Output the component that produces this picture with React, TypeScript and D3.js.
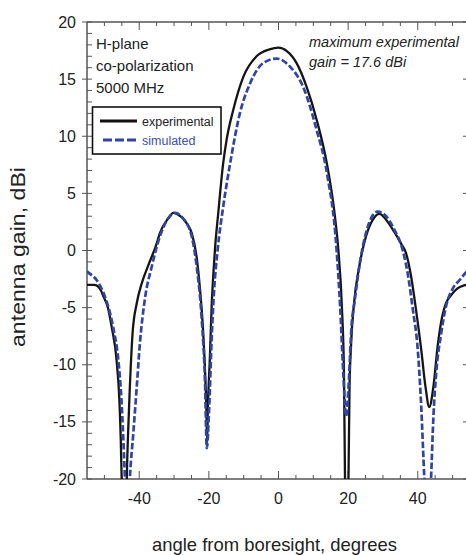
import React from 'react';
import * as d3 from 'd3';

const experimental: [number, number][] = [
  [-55, -3.0], [-53, -3.0], [-52, -3.1], [-51, -3.5], [-50.3, -4.0], [-49, -5.0], [-47.9, -6.7],
  [-46.5, -9.6], [-45.7, -13.1], [-45.3, -16.6], [-45.0, -20.5], [-44.4, -25], [-43.8, -25],
  [-43.6, -20.5], [-43.2, -16.0], [-42.7, -12.0], [-41.9, -7.2], [-40.7, -4.6], [-39.3, -2.9],
  [-37.4, -1.3], [-35.0, 0.6], [-34.1, 1.5], [-31.7, 2.8], [-30.2, 3.3], [-29.2, 3.2], [-27.4, 2.8],
  [-26.4, 2.4], [-24.9, 1.5], [-23.5, -0.6], [-22.6, -3.2], [-21.7, -6.8], [-21.1, -10.5],
  [-20.7, -14.0], [-20.5, -16.8], [-20.3, -14.0], [-19.7, -9.3], [-19.2, -4.9], [-18.7, -2.0],
  [-18.2, 0.3], [-17.3, 3.3], [-15.9, 7.6], [-14.9, 9.7], [-13.0, 12.3], [-10.1, 15.2], [-6.3, 17.0],
  [-2.6, 17.6], [0, 17.75], [2.4, 17.45], [5.2, 16.4], [8.1, 14.3], [11.0, 11.4], [13.9, 7.6],
  [16.2, 3.0], [17.2, 0.0], [18.2, -4.9], [18.8, -10.7], [19.1, -20], [19.45, -25], [19.75, -25],
  [20.1, -20], [20.4, -12], [20.8, -8.5], [21.7, -4.6], [23.2, -1.4], [25.1, 1.2], [27.1, 2.7],
  [29.0, 3.2], [30.9, 2.7], [33.3, 1.6], [35.2, 0.6], [36.6, -0.2], [38.1, -2.3], [39.5, -5.2],
  [41.0, -8.7], [42.2, -11.9], [43.3, -13.7], [44.5, -11.9], [45.7, -8.4], [47.0, -5.8],
  [48.1, -4.6], [49.6, -3.9], [51.5, -3.3], [53.9, -3.0], [55, -2.9],
];

const simulated: [number, number][] = [
  [-55, -1.8], [-54.7, -1.9], [-52.2, -2.6], [-49.9, -4.0], [-47.5, -6.7], [-46.0, -9.6],
  [-45.1, -13.1], [-44.4, -17.7], [-44.1, -20], [-43.4, -25], [-42.7, -20], [-41.7, -16],
  [-40.7, -11.9], [-39.8, -8.1], [-38.4, -4.3], [-36.4, -1.4], [-34.1, 1.2], [-31.7, 2.8],
  [-29.7, 3.3], [-27.4, 2.8], [-24.9, 1.2], [-23.5, -1.4], [-22.1, -5.8], [-21.1, -11.6],
  [-20.6, -17.3], [-19.9, -13.7], [-19.2, -7.8], [-18.5, -3.5], [-17.5, 0], [-15.8, 4.0],
  [-13.9, 7.6], [-11.1, 12.0], [-8.2, 14.6], [-4.4, 16.4], [-0.5, 16.8], [3.3, 16.1], [7.1, 14.3],
  [11.0, 10.5], [13.9, 6.8], [16.7, 0], [17.7, -4.9], [18.6, -10.7], [19.4, -14.5], [20.1, -12],
  [21.0, -6.5], [21.8, -4.6], [23.2, -1.4], [25.1, 1.5], [27.1, 3.1], [28.5, 3.4], [30.9, 3.0],
  [33.3, 1.8], [35.7, 0.0], [37.1, -2.0], [38.6, -5.2], [40.0, -8.7], [40.9, -13.1], [41.9, -20],
  [42.8, -25], [43.8, -20], [44.5, -14.5], [45.3, -10.7], [46.7, -7.3], [48.1, -4.9], [50.1, -3.3],
  [52.0, -2.6], [53.9, -1.9], [55, -1.6],
];

const xMajorTicks = [-40, -20, 0, 20, 40];
const yMajorTicks = [20, 15, 10, 5, 0, -5, -10, -15, -20];
const infoLines = ['H-plane', 'co-polarization', '5000 MHz'];
const noteLines = ['maximum experimental', 'gain = 17.6 dBi'];
const legendLabels = ['experimental', 'simulated'];
const xTitle = 'angle from boresight, degrees';
const yTitle = 'antenna gain, dBi';

const FONT = "'Liberation Sans', Arial, sans-serif";
const AXIS = '#555';
const BLUE = '#2f45a0';

export default function App() {
  const W = 466, H = 555;
  const x = d3.scaleLinear().domain([-55, 55]).range([87, 470]);
  const y = d3.scaleLinear().domain([-20, 20]).range([479, 22]);
  const gen = d3.line<[number, number]>().x(d => x(d[0])).y(d => y(d[1])).curve(d3.curveMonotoneX);

  const xMinor = d3.range(-50, 55, 5).filter(v => !xMajorTicks.includes(v));
  const yMinor = d3.range(-19, 20, 1).filter(v => v % 5 !== 0);
  const [x0, x1] = x.range();
  const [yb, yt] = y.range();

  return (
    <svg width={W} height={H} style={{ position: 'absolute', left: 0, top: 0, background: '#fff' }}
      fontFamily={FONT}>
      <defs>
        <clipPath id="plot">
          <rect x={x0} y={yt} width={x1 - x0} height={yb - yt} />
        </clipPath>
      </defs>
      <rect x={0} y={0} width={W} height={H} fill="#fff" />

      <g stroke={AXIS} strokeWidth={1.5} fill="none">
        <line x1={x0} y1={yt} x2={x1} y2={yt} />
        <line x1={x0} y1={yb} x2={x1} y2={yb} />
        <line x1={x0} y1={yt} x2={x0} y2={yb} />
        <line x1={x1} y1={yt} x2={x1} y2={yb} />
      </g>
      <g stroke={AXIS} strokeWidth={1}>
        {xMinor.map(v => (
          <g key={'xm' + v}>
            <line x1={x(v)} x2={x(v)} y1={yb} y2={yb - 4} />
            <line x1={x(v)} x2={x(v)} y1={yt} y2={yt + 4} />
          </g>
        ))}
        {xMajorTicks.map(v => (
          <g key={'xM' + v}>
            <line x1={x(v)} x2={x(v)} y1={yb} y2={yb - 8} />
            <line x1={x(v)} x2={x(v)} y1={yt} y2={yt + 8} />
          </g>
        ))}
        {yMinor.map(v => (
          <g key={'ym' + v}>
            <line x1={x0} x2={x0 + 5} y1={y(v)} y2={y(v)} />
            <line x1={x1} x2={x1 - 4} y1={y(v)} y2={y(v)} />
          </g>
        ))}
        {yMajorTicks.map(v => (
          <g key={'yM' + v}>
            <line x1={x0 - 5} x2={x0 + 5} y1={y(v)} y2={y(v)} />
            <line x1={x1} x2={x1 - 7} y1={y(v)} y2={y(v)} />
          </g>
        ))}
      </g>
      <g fontSize={16} fill="#222">
        {yMajorTicks.map(v => (
          <text key={'yl' + v} x={76} y={y(v)} dy="0.35em" textAnchor="end">{v}</text>
        ))}
        {xMajorTicks.map(v => (
          <text key={'xl' + v} x={x(v)} y={504} textAnchor="middle">{v}</text>
        ))}
      </g>
      <text x={274.5} y={551} fontSize={18.5} fill="#222" textAnchor="middle"
        textLength={245} lengthAdjust="spacingAndGlyphs">{xTitle}</text>
      <text transform={`translate(24.5,257) rotate(-90)`} fontSize={20} fill="#222" textAnchor="middle"
        textLength={180} lengthAdjust="spacingAndGlyphs">{yTitle}</text>

      <g clipPath="url(#plot)" fill="none">
        <path d={gen(experimental) || ''} stroke="#151515" strokeWidth={2.3} strokeLinejoin="round" />
        <path d={gen(simulated) || ''} stroke={BLUE} strokeWidth={2.7} strokeDasharray="6.5,2.5" />
      </g>

      <g fontSize={15} fill="#222">
        {infoLines.map((t, i) => (
          <text key={t} x={96} y={49 + i * 22}>{t}</text>
        ))}
      </g>
      <g fontSize={14.5} fill="#222" fontStyle="italic">
        {noteLines.map((t, i) => (
          <text key={t} x={309} y={47 + i * 20}>{t}</text>
        ))}
      </g>

      <rect x={92.5} y={107} width={128.5} height={47} fill="#fff" stroke="#111" strokeWidth={1.6} />
      <line x1={100} x2={137} y1={121} y2={121} stroke="#111" strokeWidth={3} />
      <line x1={103} x2={136} y1={140} y2={140} stroke={BLUE} strokeWidth={3} strokeDasharray="9,3" />
      <text x={142} y={125.5} fontSize={12.5} fill="#222">{legendLabels[0]}</text>
      <text x={142} y={144.5} fontSize={12.5} fill="#3a4fae">{legendLabels[1]}</text>
    </svg>
  );
}
